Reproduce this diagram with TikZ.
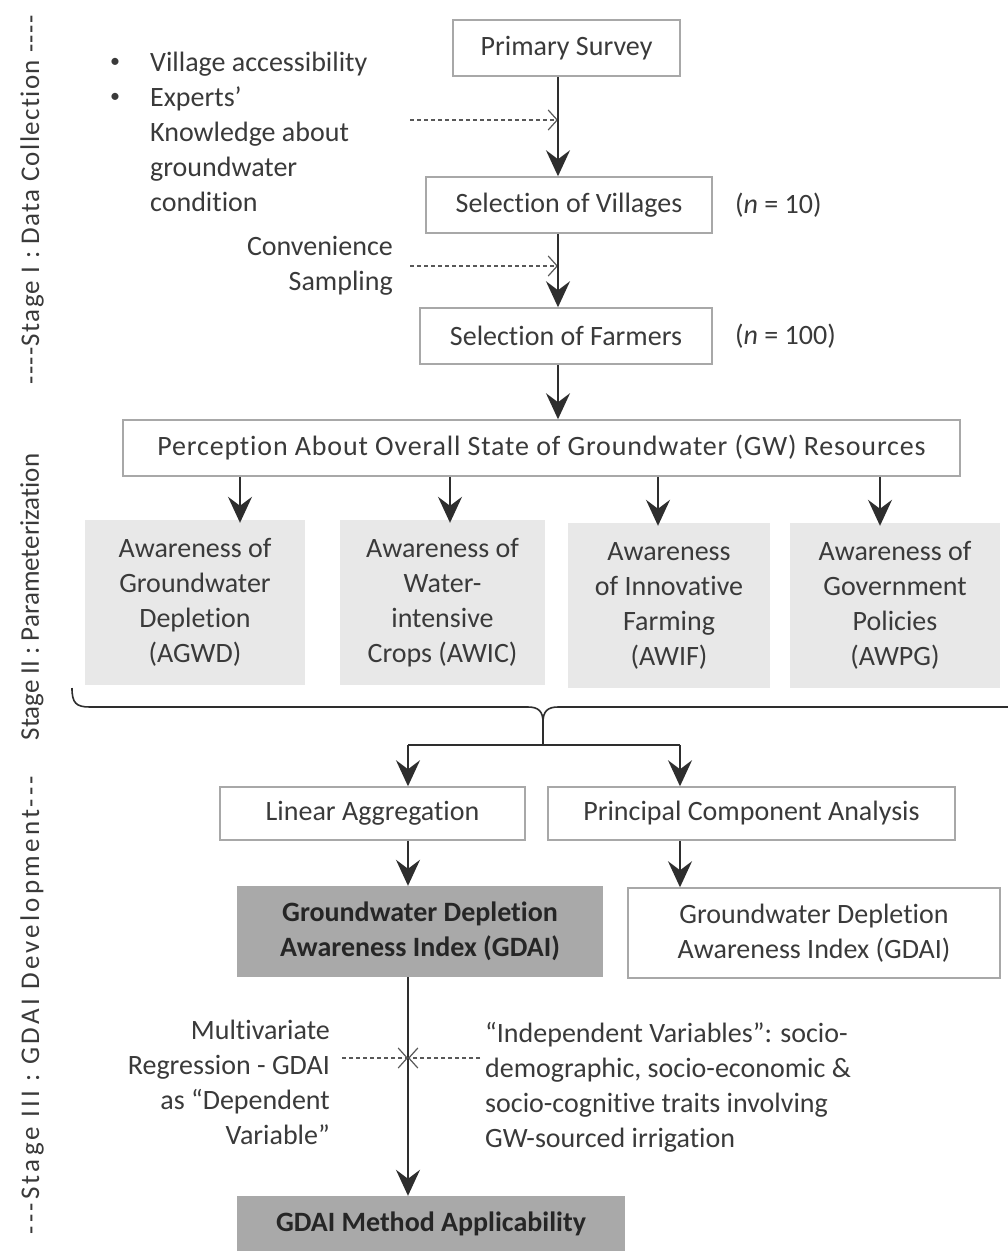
\documentclass[tikz,border=0pt]{standalone}
\usepackage{fontspec}
\setmainfont{Carlito}[Ligatures={NoCommon,NoContextual}]
\usetikzlibrary{arrows.meta,calc}
\definecolor{txt}{HTML}{3A3A3A}
\definecolor{bordc}{HTML}{A8A8A8}
\definecolor{lightf}{HTML}{E8E8E8}
\definecolor{darkf}{HTML}{A9A9A9}
\definecolor{linec}{HTML}{2E2E2E}
\tikzset{
  base/.style={font=\fontsize{28}{35}\selectfont, text=txt, inner sep=0pt},
  wbox/.style={base, draw=bordc, line width=1.5pt, fill=white, align=center},
  gbox/.style={base, fill=lightf, align=center},
  dbox/.style={base, fill=darkf, align=center, font=\fontsize{28}{35}\selectfont\bfseries, text=black!85},
  lbl/.style={base},
  arr/.style={draw=linec, line width=1.8pt, -{Stealth[length=26pt,width=24pt,inset=9pt]}},
  plain/.style={draw=linec, line width=1.8pt},
  dasharr/.style={draw=linec!80, line width=1.2pt, dash pattern=on 4pt off 3pt, -{Straight Barb[length=9pt,width=20pt,line width=1.2pt]}},
  stagelbl/.style={base, rotate=90, font=\fontsize{27}{32}\selectfont},
}
\newcommand{\smbul}{\raisebox{0.14em}{\fontsize{20}{20}\selectfont\textbullet}}
\begin{document}
\begin{tikzpicture}[x=1pt,y=-1pt]
\path[use as bounding box, clip] (0,0) rectangle (1008,1251);
\fill[white] (0,0) rectangle (1008,1251);

% stage labels
\node[stagelbl, font=\fontsize{27}{32}\selectfont\addfontfeatures{LetterSpace=5}] (s1) at (32,200) {-{}-{}-{}-Stage I : Data Collection -{}-{}-{}-};
\node[stagelbl] (s2) at (32,597) {Stage II : Parameterization};
\node[stagelbl, font=\fontsize{27}{32}\selectfont\addfontfeatures{LetterSpace=12}] (s3) at (32,1005) {-{}-{}-Stage III : GDAI Development-{}-{}-};

% column coordinates
\coordinate (c1) at (558,0);

% Stage I
\node[wbox, minimum width=227, minimum height=56] (prim) at (566.5,48) {Primary Survey};
\node[wbox, minimum width=286, minimum height=56] (vil) at (569,205) {Selection of Villages};
\node[wbox, minimum width=292, minimum height=56] (farm) at (566,336) {Selection of Farmers};
\node[lbl, anchor=west] (n10) at (735,205) {(\textit{n} = 10)};
\node[lbl, anchor=west] (n100) at (735,336) {(\textit{n} = 100)};

\node[lbl, anchor=north west, align=left] (bl1) at (110,47) {%
\begin{tabular}{@{}p{40pt}@{}l@{}}
\smbul & Village accessibility\\
\smbul & Experts’\\
 & Knowledge about\\
 & groundwater\\
 & condition
\end{tabular}};
\node[lbl, anchor=east, align=right] (conv) at (393,266) {Convenience\\Sampling};

\coordinate (d1) at (410,120);
\coordinate (d2) at (410,266);
\draw[dasharr] (d1) -- (d1 -| c1);
\draw[dasharr] (d2) -- (d2 -| c1);

\draw[arr] (prim.south -| c1) -- (vil.north -| c1);
\draw[arr] (vil.south -| c1) -- (farm.north -| c1);

% Stage II
\node[wbox, minimum width=837, minimum height=56, font=\fontsize{28}{35}\selectfont\addfontfeatures{LetterSpace=3}] (perc) at (541.5,448) {Perception About Overall State of Groundwater (GW) Resources};
\draw[arr] (farm.south -| c1) -- (perc.north -| c1);

\node[gbox, minimum width=220, minimum height=165] (agwd) at (195,602.5) {Awareness of\\Groundwater\\Depletion\\(AGWD)};
\node[gbox, minimum width=205, minimum height=165] (awic) at (442.5,602.5) {Awareness of\\Water-\\intensive\\Crops (AWIC)};
\node[gbox, minimum width=202, minimum height=165] (awif) at (669,605.5) {Awareness\\of Innovative\\Farming\\(AWIF)};
\node[gbox, minimum width=210, minimum height=165] (awpg) at (895,605.5) {Awareness of\\Government\\Policies\\(AWPG)};

\coordinate (a1) at (240,0);
\coordinate (a2) at (450,0);
\coordinate (a3) at (658,0);
\coordinate (a4) at (880,0);
\draw[arr] (perc.south -| a1) -- ([yshift=-3]agwd.north -| a1);
\draw[arr] (perc.south -| a2) -- ([yshift=-3]awic.north -| a2);
\draw[arr] (perc.south -| a3) -- ([yshift=-3]awif.north -| a3);
\draw[arr] (perc.south -| a4) -- ([yshift=-3]awpg.north -| a4);

% brace
\coordinate (bl) at (72,688);
\coordinate (bc) at (543,722);
\coordinate (br) at (1020,707);
\draw[plain, line width=1.6pt] (bl) .. controls (72,703) and (76,707) .. (90,707) -- (528,707) .. controls (538,707) and (543,711) .. (bc)
  (bc) .. controls (543,711) and (548,707) .. (558,707) -- (br);

% Stage III
\node[wbox, minimum width=305, minimum height=53] (lin) at (372.5,813.5) {Linear Aggregation};
\node[wbox, minimum width=407, minimum height=53] (pca) at (751.5,813.5) {Principal Component Analysis};
\coordinate (j) at (543,745);
\coordinate (k1) at (408,0);
\coordinate (k2) at (680,0);
\draw[plain] (bc) -- (j);
\draw[plain] (j -| k1) -- (j -| k2);
\draw[arr] (j -| k1) -- (lin.north -| k1);
\draw[arr] (j -| k2) -- (pca.north -| k2);

\node[dbox, minimum width=366, minimum height=91] (gd1) at (420,931.5) {Groundwater Depletion\\Awareness Index (GDAI)};
\node[wbox, minimum width=372, minimum height=90] (gd2) at (814,933) {Groundwater Depletion\\Awareness Index (GDAI)};
\draw[arr] (lin.south -| k1) -- (gd1.north -| k1);
\draw[arr] (pca.south -| k2) -- (gd2.north -| k2);

\node[dbox, minimum width=388, minimum height=56] (meth) at (431,1224) {GDAI Method Applicability};
\draw[arr] (gd1.south -| k1) -- (meth.north -| k1);

\node[lbl, anchor=east, align=right] (mv) at (330,1082) {Multivariate\\Regression - GDAI\\as “Dependent\\Variable”};
\node[lbl, anchor=west, align=left] (iv) at (485,1087) {“Independent Variables”: socio-\\demographic, socio-economic \&\\socio-cognitive traits involving\\GW-sourced irrigation};
\coordinate (x1) at (342,1058);
\coordinate (x2) at (480,1058);
\draw[dasharr] (x1) -- (x1 -| k1);
\draw[dasharr] (x2) -- (x2 -| k1);
\end{tikzpicture}
\end{document}
